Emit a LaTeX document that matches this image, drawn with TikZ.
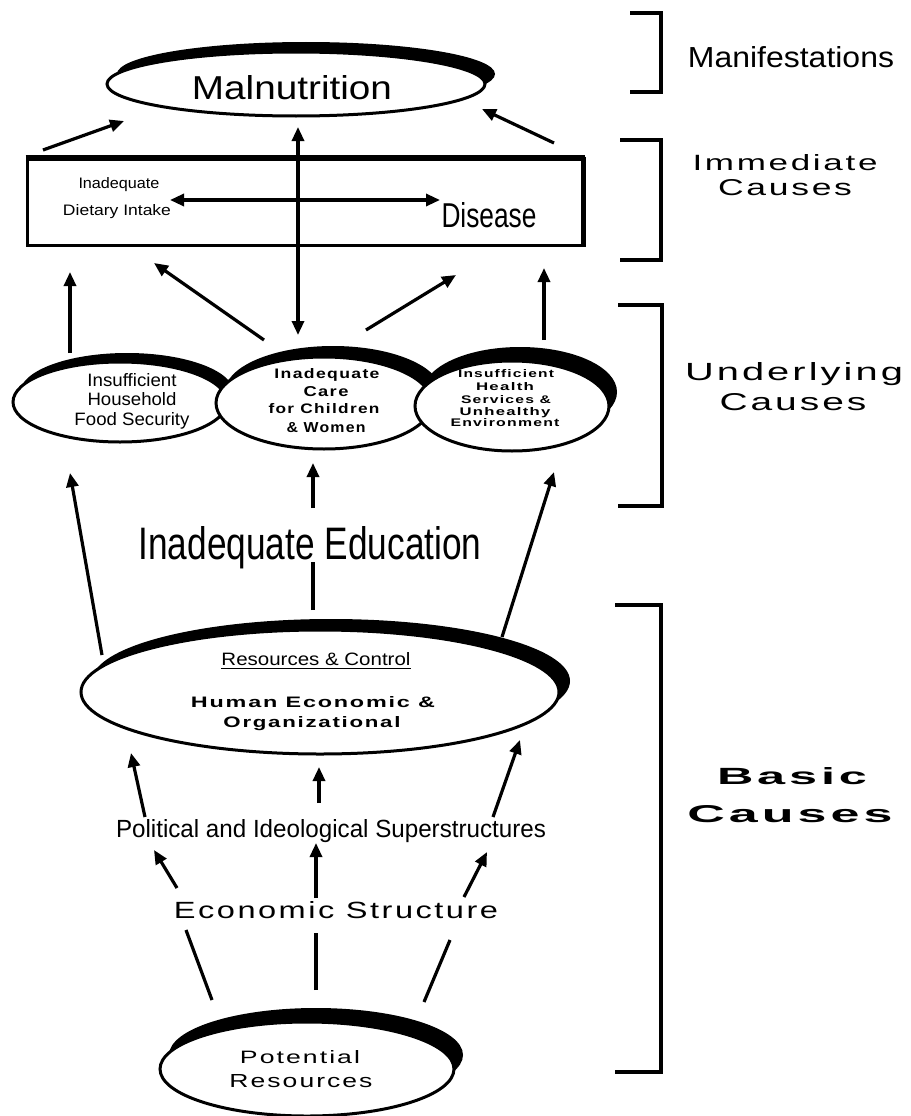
\documentclass[tikz,border=0pt]{standalone}
\usepackage{fontspec}
\usepackage{graphicx}
\setmainfont{Liberation Sans}
\newfontfamily\rf{Liberation Sans}
\newfontfamily\wf[FakeStretch=1.3,LetterSpace=10]{Liberation Sans}
\usetikzlibrary{shapes.geometric,arrows.meta}
\newcommand\tx[3]{\resizebox{#1pt}{#2pt}{#3}}
\begin{document}
\begin{tikzpicture}[x=1pt,y=-1pt,
  ln/.style={line width=3.2pt},
  arr/.style={ln,-{Triangle[length=14pt,width=12pt]}},
  darr/.style={ln,{Triangle[length=14pt,width=12pt]}-{Triangle[length=14pt,width=12pt]}},
  ell/.style={ellipse,draw,line width=3pt,fill=white,inner sep=0pt},
  brk/.style={line width=3.4pt},
  lbl/.style={inner sep=0pt,anchor=base}]
\useasboundingbox[fill=white] (0,0) rectangle (910,1116);

% ---------- Malnutrition
\fill (306,74) ellipse [x radius=189, y radius=32];
\node[ell,minimum width=378pt,minimum height=64pt] (mal) at (296,84) {};
\node[lbl] (tmal) at (292,99) {\tx{200}{24}{\rf Malnutrition}};

% ---------- Immediate causes box
\node[draw,line width=3pt,minimum width=556pt,minimum height=87pt,inner sep=0pt] (rect) at (305,201.5) {};
\draw[line width=6.5pt] ([yshift=-1.5pt]rect.north west) -- ([yshift=-1.5pt]rect.north east);
\draw[line width=4.5pt] ([xshift=-1pt]rect.north east) -- ([xshift=-1pt]rect.south east);
\node[lbl] (tina) at (119,188.5) {\tx{81}{11}{\rf Inadequate}};
\node[lbl] (tdi) at (117,215.5) {\tx{108}{11}{\rf Dietary Intake}};
\node[lbl] (tdis) at (489,227) {\tx{95}{25}{\rf Disease}};

% ---------- Underlying ellipses
\fill (127,393) ellipse [x radius=107, y radius=40];
\node[ell,minimum width=214pt,minimum height=80pt] (hh) at (120,402) {};
\fill (333,392) ellipse [x radius=108, y radius=46];
\node[ell,minimum width=216pt,minimum height=92pt] (care) at (324,403) {};
\fill (520,392) ellipse [x radius=97, y radius=45];
\node[ell,minimum width=194pt,minimum height=90pt] (hlth) at (512,406) {};

\node[lbl] (hh1) at (132,386) {\tx{89}{13}{\rf Insufficient}};
\node[lbl] (hh2) at (132,405) {\tx{89}{13}{\rf Household}};
\node[lbl] (hh3) at (132,425) {\tx{115}{13}{\rf Food Security}};

\node[lbl] (ca1) at (327,378) {\tx{105}{10}{\wf\bfseries Inadequate}};
\node[lbl] (ca2) at (326,396) {\tx{45}{10}{\wf\bfseries Care}};
\node[lbl] (ca3) at (324,413) {\tx{111}{10}{\wf\bfseries for Children}};
\node[lbl] (ca4) at (326,432) {\tx{79}{10}{\wf\bfseries \& Women}};

\node[lbl] (he1) at (506,377) {\tx{96}{8}{\wf\bfseries Insufficient}};
\node[lbl] (he2) at (505,390) {\tx{58}{8}{\wf\bfseries Health}};
\node[lbl] (he3) at (506,403) {\tx{90}{8}{\wf\bfseries Services \&}};
\node[lbl] (he4) at (505,415) {\tx{91}{8}{\wf\bfseries Unhealthy}};
\node[lbl] (he5) at (505,426.5) {\tx{109}{8}{\wf\bfseries Environment}};

% ---------- Inadequate Education
\node[lbl] (edu) at (310,559) {\tx{343}{33}{\rf Inadequate Education}};

% ---------- Resources & Control
\fill (331,681) ellipse [x radius=239, y radius=62];
\node[ell,minimum width=478pt,minimum height=124pt] (res) at (320,692) {};
\node[lbl] (rc) at (316,665.5) {\tx{189}{13}{\rf Resources \& Control}};
\draw[line width=1.4pt] ([yshift=-3pt]rc.base west) -- ([yshift=-3pt]rc.base east);
\node[lbl] (hum) at (313,707.5) {\tx{244}{11}{\wf\bfseries Human Economic \&}};
\node[lbl] (org) at (312,727.5) {\tx{177}{11}{\wf\bfseries Organizational}};

% ---------- Political / Economic
\node[lbl] (pol) at (331,837) {\tx{430}{18}{\rf Political and Ideological Superstructures}};
\node[lbl] (eco) at (336,918.5) {\tx{324}{17}{\wf Economic Structure}};

% ---------- Potential Resources
\fill (316,1055) ellipse [x radius=147, y radius=47];
\node[ell,minimum width=294pt,minimum height=94pt] (pot) at (307,1069) {};
\node[lbl] (pot1) at (300,1063.5) {\tx{120}{13}{\wf Potential}};
\node[lbl] (pot2) at (301,1087.5) {\tx{143}{13}{\wf Resources}};

% ---------- Right-hand labels and brackets
\draw[brk] (630,13) -- (661,13) -- (661,92) -- (630,92);
\draw[brk] (620,140) -- (661,140) -- (661,260) -- (620,260);
\draw[brk] (618,305) -- (662,305) -- (662,506) -- (618,506);
\draw[brk] (615,605) -- (661,605) -- (661,1072) -- (615,1072);
\node[lbl] (lman) at (791,67.5) {\tx{206}{21}{\rf Manifestations}};
\node[lbl] (limm1) at (785,170.5) {\tx{185}{16}{\wf Immediate}};
\node[lbl] (limm2) at (785,195.5) {\tx{134}{16}{\wf Causes}};
\node[lbl] (lund1) at (794,380) {\tx{218}{18}{\wf Underlying}};
\node[lbl] (lund2) at (793,410) {\tx{147}{17}{\wf Causes}};
\node[lbl] (lbas1) at (792,784) {\tx{150}{17}{\wf\bfseries Basic}};
\node[lbl] (lbas2) at (790,822) {\tx{205}{17}{\wf\bfseries Causes}};

% ---------- connector end points
\coordinate (a1s) at (43,150);   \coordinate (a1e) at (124,121);
\coordinate (a2s) at (554,143);  \coordinate (a2e) at (482,109);
\coordinate (vT) at (298,127);   \coordinate (vB) at (298,335);
\coordinate (hL) at (170,200);   \coordinate (hR) at (440,200);
\coordinate (a5s) at (70,353);   \coordinate (a5e) at (70,272);
\coordinate (a6s) at (264,340);  \coordinate (a6e) at (154,263);
\coordinate (a7s) at (366,330);  \coordinate (a7e) at (456,275);
\coordinate (a8s) at (544,340);  \coordinate (a8e) at (544,268);
\coordinate (a9s) at (102,655);  \coordinate (a9e) at (70,473);
\coordinate (m1s) at (313,610);  \coordinate (m1e) at (313,562);
\coordinate (m2s) at (313,508);  \coordinate (m2e) at (313,463);
\coordinate (a11s) at (502,637); \coordinate (a11e) at (554,472);
\coordinate (a12s) at (145,817); \coordinate (a12e) at (131,753);
\coordinate (a13s) at (319,803); \coordinate (a13e) at (319,767);
\coordinate (a14s) at (493,817); \coordinate (a14e) at (520,740);
\coordinate (a15s) at (177,888); \coordinate (a15e) at (154,850);
\coordinate (a16s) at (316,898); \coordinate (a16e) at (316,843);
\coordinate (a17s) at (464,897); \coordinate (a17e) at (487,852);
\coordinate (l1s) at (212,1000); \coordinate (l1e) at (186,930);
\coordinate (l2s) at (316,990);  \coordinate (l2e) at (316,933);
\coordinate (l3s) at (424,1002); \coordinate (l3e) at (450,940);

% ---------- connectors
\draw[arr] (a1s) -- (a1e);
\draw[arr] (a2s) -- (a2e);
\draw[darr] (vB) -- (vT);
\draw[darr] (hL) -- (hR);
\draw[arr] (a5s) -- (a5e);
\draw[arr] (a6s) -- (a6e);
\draw[arr] (a7s) -- (a7e);
\draw[arr] (a8s) -- (a8e);
\draw[arr] (a9s) -- (a9e);
\draw[ln] (m1s) -- (m1e);
\draw[arr] (m2s) -- (m2e);
\draw[arr] (a11s) -- (a11e);
\draw[arr] (a12s) -- (a12e);
\draw[arr] (a13s) -- (a13e);
\draw[arr] (a14s) -- (a14e);
\draw[arr] (a15s) -- (a15e);
\draw[arr] (a16s) -- (a16e);
\draw[arr] (a17s) -- (a17e);
\draw[ln] (l1s) -- (l1e);
\draw[ln] (l2s) -- (l2e);
\draw[ln] (l3s) -- (l3e);
\end{tikzpicture}
\end{document}
